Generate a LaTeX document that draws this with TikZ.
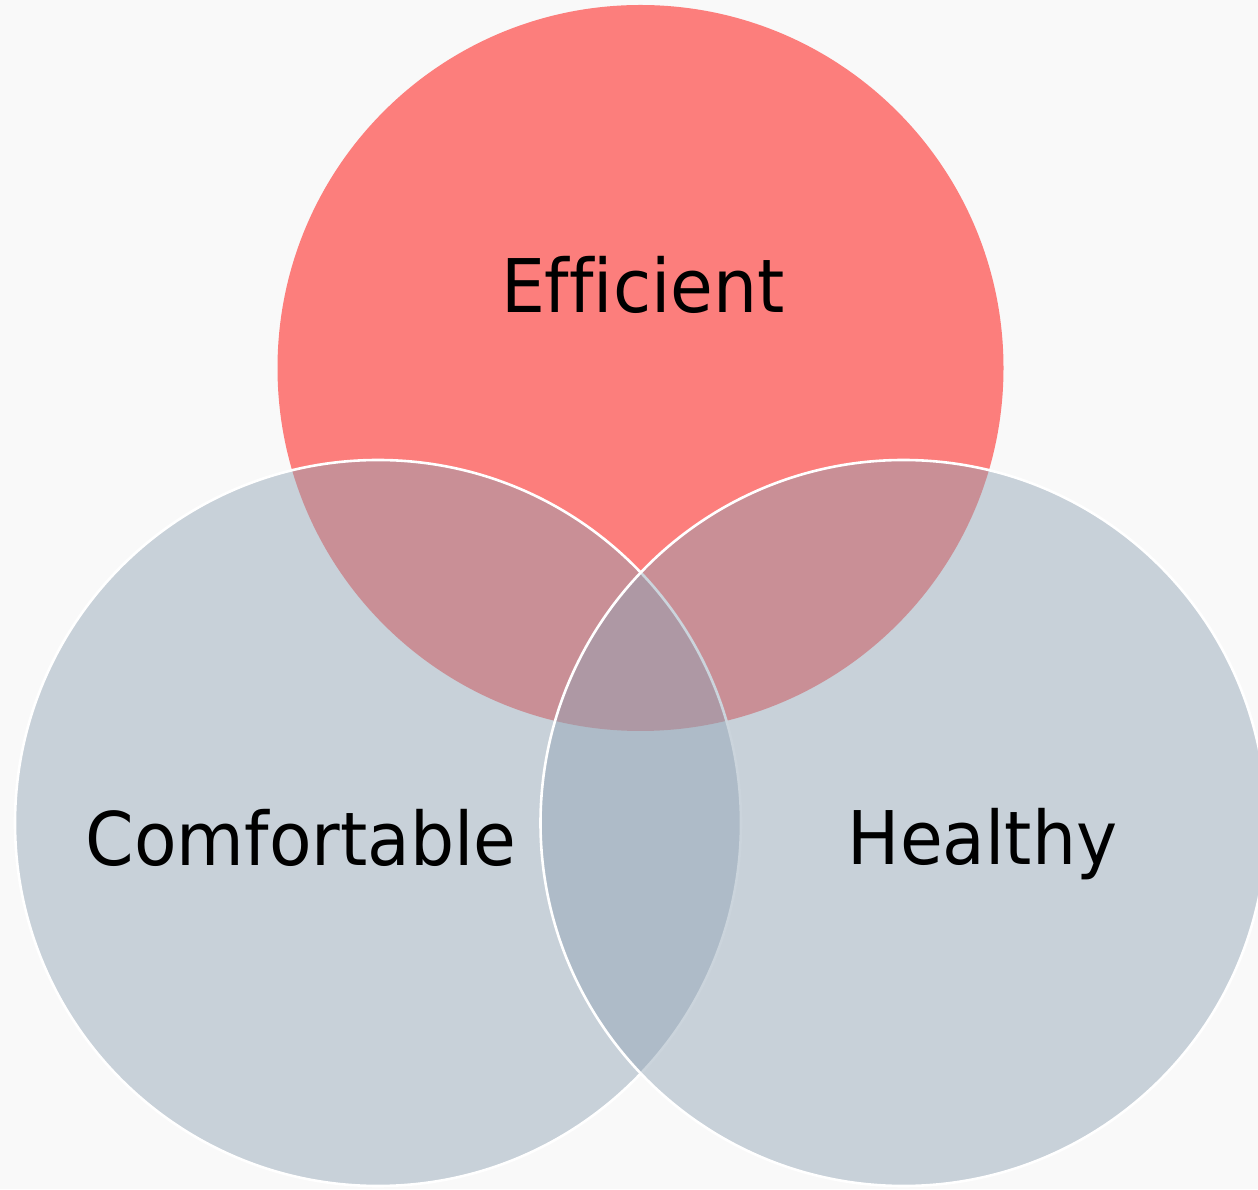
\documentclass[tikz,border=0pt]{standalone}
\usepackage{fontspec}
\setmainfont{DejaVu Sans}[FakeStretch=0.94, Ligatures=NoCommon]
\definecolor{paper}{RGB}{249,249,249}
\definecolor{effred}{RGB}{252,126,124}
\definecolor{venngray}{RGB}{145,164,181}
\begin{document}
\begin{tikzpicture}[x=0.5pt,y=0.5pt,
        set/.style={circle, minimum size=363pt, inner sep=0pt},
        grayset/.style={set, fill=venngray, fill opacity=0.47, draw=white, line width=1.3pt},
        lbl/.style={anchor=base, text=black, font=\fontsize{37pt}{44pt}\selectfont}]
                \path[use as bounding box, clip] (0,0) rectangle (1258,1189);
                \fill[paper] (0,0) rectangle (1258,1189);

                \node[set, fill=effred] (eff) at (640.5,821) {};
                \node[grayset] (com) at (378,366) {};
                \node[grayset] (hea) at (903.5,366) {};

                \node[lbl] (efflbl) at (643,876) {Efficient};
                \node[lbl] (comlbl) at (301,323) {Comfortable};
                \node[lbl] (healbl) at (982.5,324) {Healthy};
            \end{tikzpicture}
\end{document}
